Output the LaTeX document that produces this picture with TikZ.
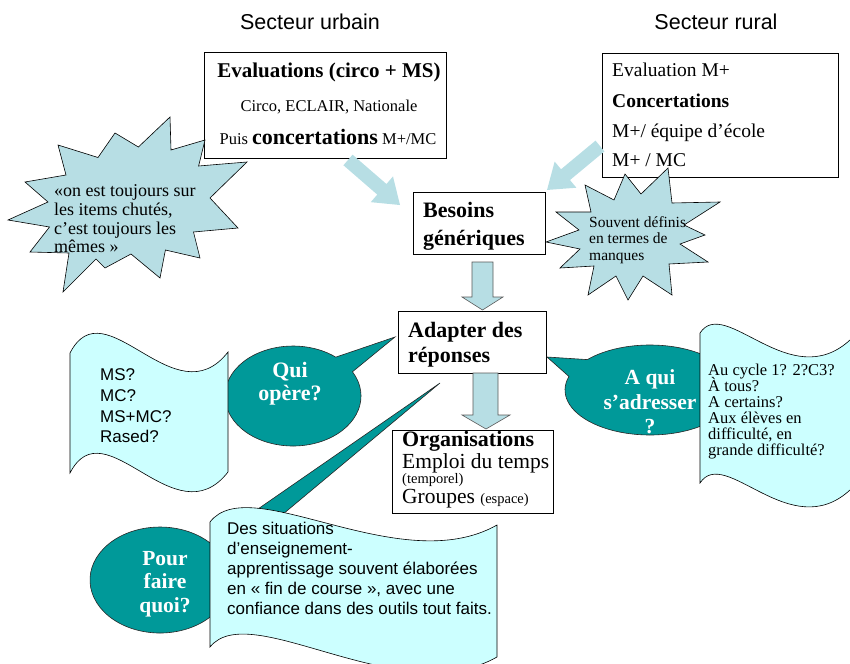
\documentclass[tikz,border=0pt]{standalone}
\usepackage{fontspec}
\setmainfont{Liberation Serif}
\setsansfont{Liberation Sans}
\usetikzlibrary{calc}
\definecolor{tealc}{RGB}{0,153,153}
\definecolor{flagc}{RGB}{204,255,255}
\definecolor{burstc}{RGB}{183,222,228}
\newcommand{\fsz}[1]{\fontsize{#1}{#1}\selectfont}
\begin{document}
\begin{tikzpicture}[x=1pt,y=-1pt,
  box/.style={draw=black,line width=0.7pt,fill=white,inner sep=0pt,outer sep=0pt,anchor=north west},
  tb/.style={inner sep=0pt,anchor=base},
  tl/.style={inner sep=0pt,anchor=base west},
  burstshape/.style={fill=burstc,draw=black,line width=0.6pt},
  flagshape/.style={fill=flagc,draw=black,line width=0.6pt},
  callshape/.style={fill=tealc,draw=black!85,line width=0.6pt},
  blockarrow/.style={fill=burstc,draw=black!65,line width=0.6pt},
  diagarrow/.style={fill=burstc},
  calltext/.style={inner sep=0pt,anchor=base,text=white,font=\bfseries\fsz{22}},
  sectitle/.style={inner sep=0pt,anchor=base,font=\sffamily\fsz{21.5}},
  flagtext/.style={inner sep=0pt,anchor=base west,font=\sffamily\fsz{17}},
]
\useasboundingbox (0,0) rectangle (850,663);
\clip (0,0) rectangle (850,663);

% titles
\node[sectitle] (t1) at (310,30) {Secteur urbain};
\node[sectitle] (t2) at (716,30) {Secteur rural};

% boxes
\node[box,minimum width=242pt,minimum height=106pt] (urb) at (204,52) {};
\node[box,minimum width=236pt,minimum height=124pt] (rur) at (602,53) {};
\node[box,minimum width=132pt,minimum height=62pt] (bes) at (413,192) {};
\node[box,minimum width=148pt,minimum height=62pt] (adapt) at (398,311) {};
\node[box,minimum width=161pt,minimum height=83pt] (org) at (392,430) {};

% box texts
\node[tb,font=\bfseries\fsz{21}] (u1) at (329,78) {Evaluations (circo + MS)};
\node[tb,font=\fsz{16.5}] (u2) at (329,112) {Circo, ECLAIR, Nationale};
\node[tb,font=\fsz{16.5}] (u3) at (328,145) {Puis {\fsz{22}\bfseries concertations} M+/MC};

\node[tl,font=\fsz{19.5}] (r1) at (612,77) {Evaluation M+};
\node[tl,font=\bfseries\fsz{19.5}] (r2) at (612,108) {Concertations};
\node[tl,font=\fsz{19.5}] (r3) at (612,138) {M+/ équipe d’école};
\node[tl,font=\fsz{19.5}] (r4) at (612,167) {M+ / MC};

\node[tl,font=\bfseries\fsz{22}] (b1) at (423,217) {Besoins};
\node[tl,font=\bfseries\fsz{22}] (b2) at (423,245) {génériques};

\node[tl,font=\bfseries\fsz{22}] (a1) at (408,337) {Adapter des};
\node[tl,font=\bfseries\fsz{22}] (a2) at (408,362) {réponses};

\node[tl,font=\bfseries\fsz{22}] (o1) at (402,446) {Organisations};
\node[tl,font=\fsz{21.5}] (o2) at (402,468) {Emploi du temps};
\node[tl,font=\fsz{14.5}] (o3) at (402,483) {(temporel)};
\node[tl,font=\fsz{21.5}] (o4) at (402,503) {Groupes {\fsz{14.5}(espace)}};

% diagonal arrows
\begin{scope}[shift={(374,182.5)},rotate=-40.9]
\fill[diagarrow] (-34.4,-7) -- (10.4,-7) -- (10.4,-17) -- (34.4,0) -- (10.4,17) -- (10.4,7) -- (-34.4,7) -- cycle;
\end{scope}
\begin{scope}[shift={(573.5,168)},rotate=-140.3]
\fill[diagarrow] (-34.4,-7) -- (10.4,-7) -- (10.4,-17) -- (34.4,0) -- (10.4,17) -- (10.4,7) -- (-34.4,7) -- cycle;
\end{scope}

% vertical block arrows
\draw[blockarrow] (472,262) -- (493,262) -- (493,297) -- (503,297) -- (482.5,310) -- (462,297) -- (472,297) -- cycle;
\draw[blockarrow] (473,373) -- (498,373) -- (498,415) -- (510,415) -- (486,429) -- (462,415) -- (473,415) -- cycle;

% left burst
\draw[burstshape] (170,117) -- (171,150) -- (205,140) -- (198.6,166) -- (247,162) -- (210,198) -- (238,228) -- (193.5,232) -- (200,258) -- (165.4,250) -- (160,278) -- (131,254) -- (105,268) -- (96,259) -- (63,292) -- (69,253) -- (30,252) -- (49.5,227) -- (8,220) -- (48,202) -- (25,182) -- (66,175) -- (58,145) -- (98,157.5) -- (115,133) -- (138.4,147) -- cycle;
\node[tl,font=\fsz{18}] (l1) at (54,196) {«on est toujours sur};
\node[tl,font=\fsz{18}] (l2) at (54,215) {les items chutés,};
\node[tl,font=\fsz{18}] (l3) at (54,234) {c’est toujours les};
\node[tl,font=\fsz{18}] (l4) at (54,252) {mêmes »};

% right burst
\draw[burstshape] (585,185) -- (614,200) -- (625,174) -- (641,194) -- (668,168) -- (672,203) -- (720,202) -- (684,225) -- (705,235) -- (680,244) -- (708,262) -- (669,264) -- (672,295) -- (643,276) -- (628,300) -- (616,276) -- (588,295) -- (594,266) -- (560,268) -- (580,249) -- (546,242) -- (579,230) -- (556,212) -- (591,212) -- cycle;
\node[tl,font=\fsz{15.5}] (s1) at (589,227) {Souvent définis};
\node[tl,font=\fsz{15.5}] (s2) at (589,243) {en termes de};
\node[tl,font=\fsz{15.5}] (s3) at (589,260) {manques};

% Qui opere callout + left flag
\coordinate (quiC) at (293,396);
\path[callshape] (395,337) -- ($(quiC)+(-29:68 and 50)$) arc[start angle=-29,end angle=309,x radius=68,y radius=50] -- cycle;
\node[calltext] (q1) at (290,377) {Qui};
\node[calltext] (q2) at (290,400) {opère?};
\path[flagshape] (70,353) .. controls (105,285) and (175,420) .. (228,352) -- (228,472) .. controls (175,540) and (105,405) .. (70,473) -- cycle;
\node[flagtext] (m1) at (100,380) {MS?};
\node[flagtext] (m2) at (100,401) {MC?};
\node[flagtext] (m3) at (100,422) {MS+MC?};
\node[flagtext] (m4) at (100,442) {Rased?};

% A qui callout + right flag
\coordinate (aquiC) at (650,390);
\path[callshape] (547,357) -- ($(aquiC)+(222.5:85 and 45)$) arc[start angle=222.5,end angle=557.5,x radius=85,y radius=45] -- cycle;
\node[calltext,font=\bfseries\fsz{21.5}] (aq1) at (650,384) {A qui};
\node[calltext,font=\bfseries\fsz{21.5}] (aq2) at (650,409) {s’adresser};
\node[calltext,font=\bfseries\fsz{21.5}] (aq3) at (650,433) {?};
\path[flagshape] (700,333) .. controls (725,295) and (790,395) .. (850,340) -- (860,340) -- (860,490) -- (850,490) .. controls (790,545) and (725,445) .. (700,483) -- cycle;
\node[tl,font=\fsz{16.5}] (c1) at (708,375) {Au cycle 1? 2?C3?};
\node[tl,font=\fsz{16.5}] (c2) at (708,391) {À tous?};
\node[tl,font=\fsz{16.5}] (c3) at (708,407) {A certains?};
\node[tl,font=\fsz{16.5}] (c4) at (708,423) {Aux élèves en};
\node[tl,font=\fsz{16.5}] (c5) at (708,439) {difficulté, en};
\node[tl,font=\fsz{16.5}] (c6) at (708,455) {grande difficulté?};

% Pour faire quoi callout + bottom flag
\coordinate (pourC) at (160,580);
\path[callshape] (440,383) -- ($(pourC)+(-20:70 and 53)$) arc[start angle=-20,end angle=315,x radius=70,y radius=53] -- cycle;
\node[calltext,font=\bfseries\fsz{21.5}] (p1) at (165,565) {Pour};
\node[calltext,font=\bfseries\fsz{21.5}] (p2) at (165,588) {faire};
\node[calltext,font=\bfseries\fsz{21.5}] (p3) at (165,612) {quoi?};
\path[flagshape] (210,522) .. controls (250,470) and (400,580) .. (497,525) -- (497,657) .. controls (400,712) and (250,597) .. (210,647) -- cycle;
\node[flagtext] (d1) at (227,534) {Des situations};
\node[flagtext] (d2) at (227,554) {d’enseignement-};
\node[flagtext] (d3) at (227,574) {apprentissage souvent élaborées};
\node[flagtext] (d4) at (227,594) {en « fin de course », avec une};
\node[flagtext] (d5) at (227,614) {confiance dans des outils tout faits.};
\end{tikzpicture}
\end{document}
